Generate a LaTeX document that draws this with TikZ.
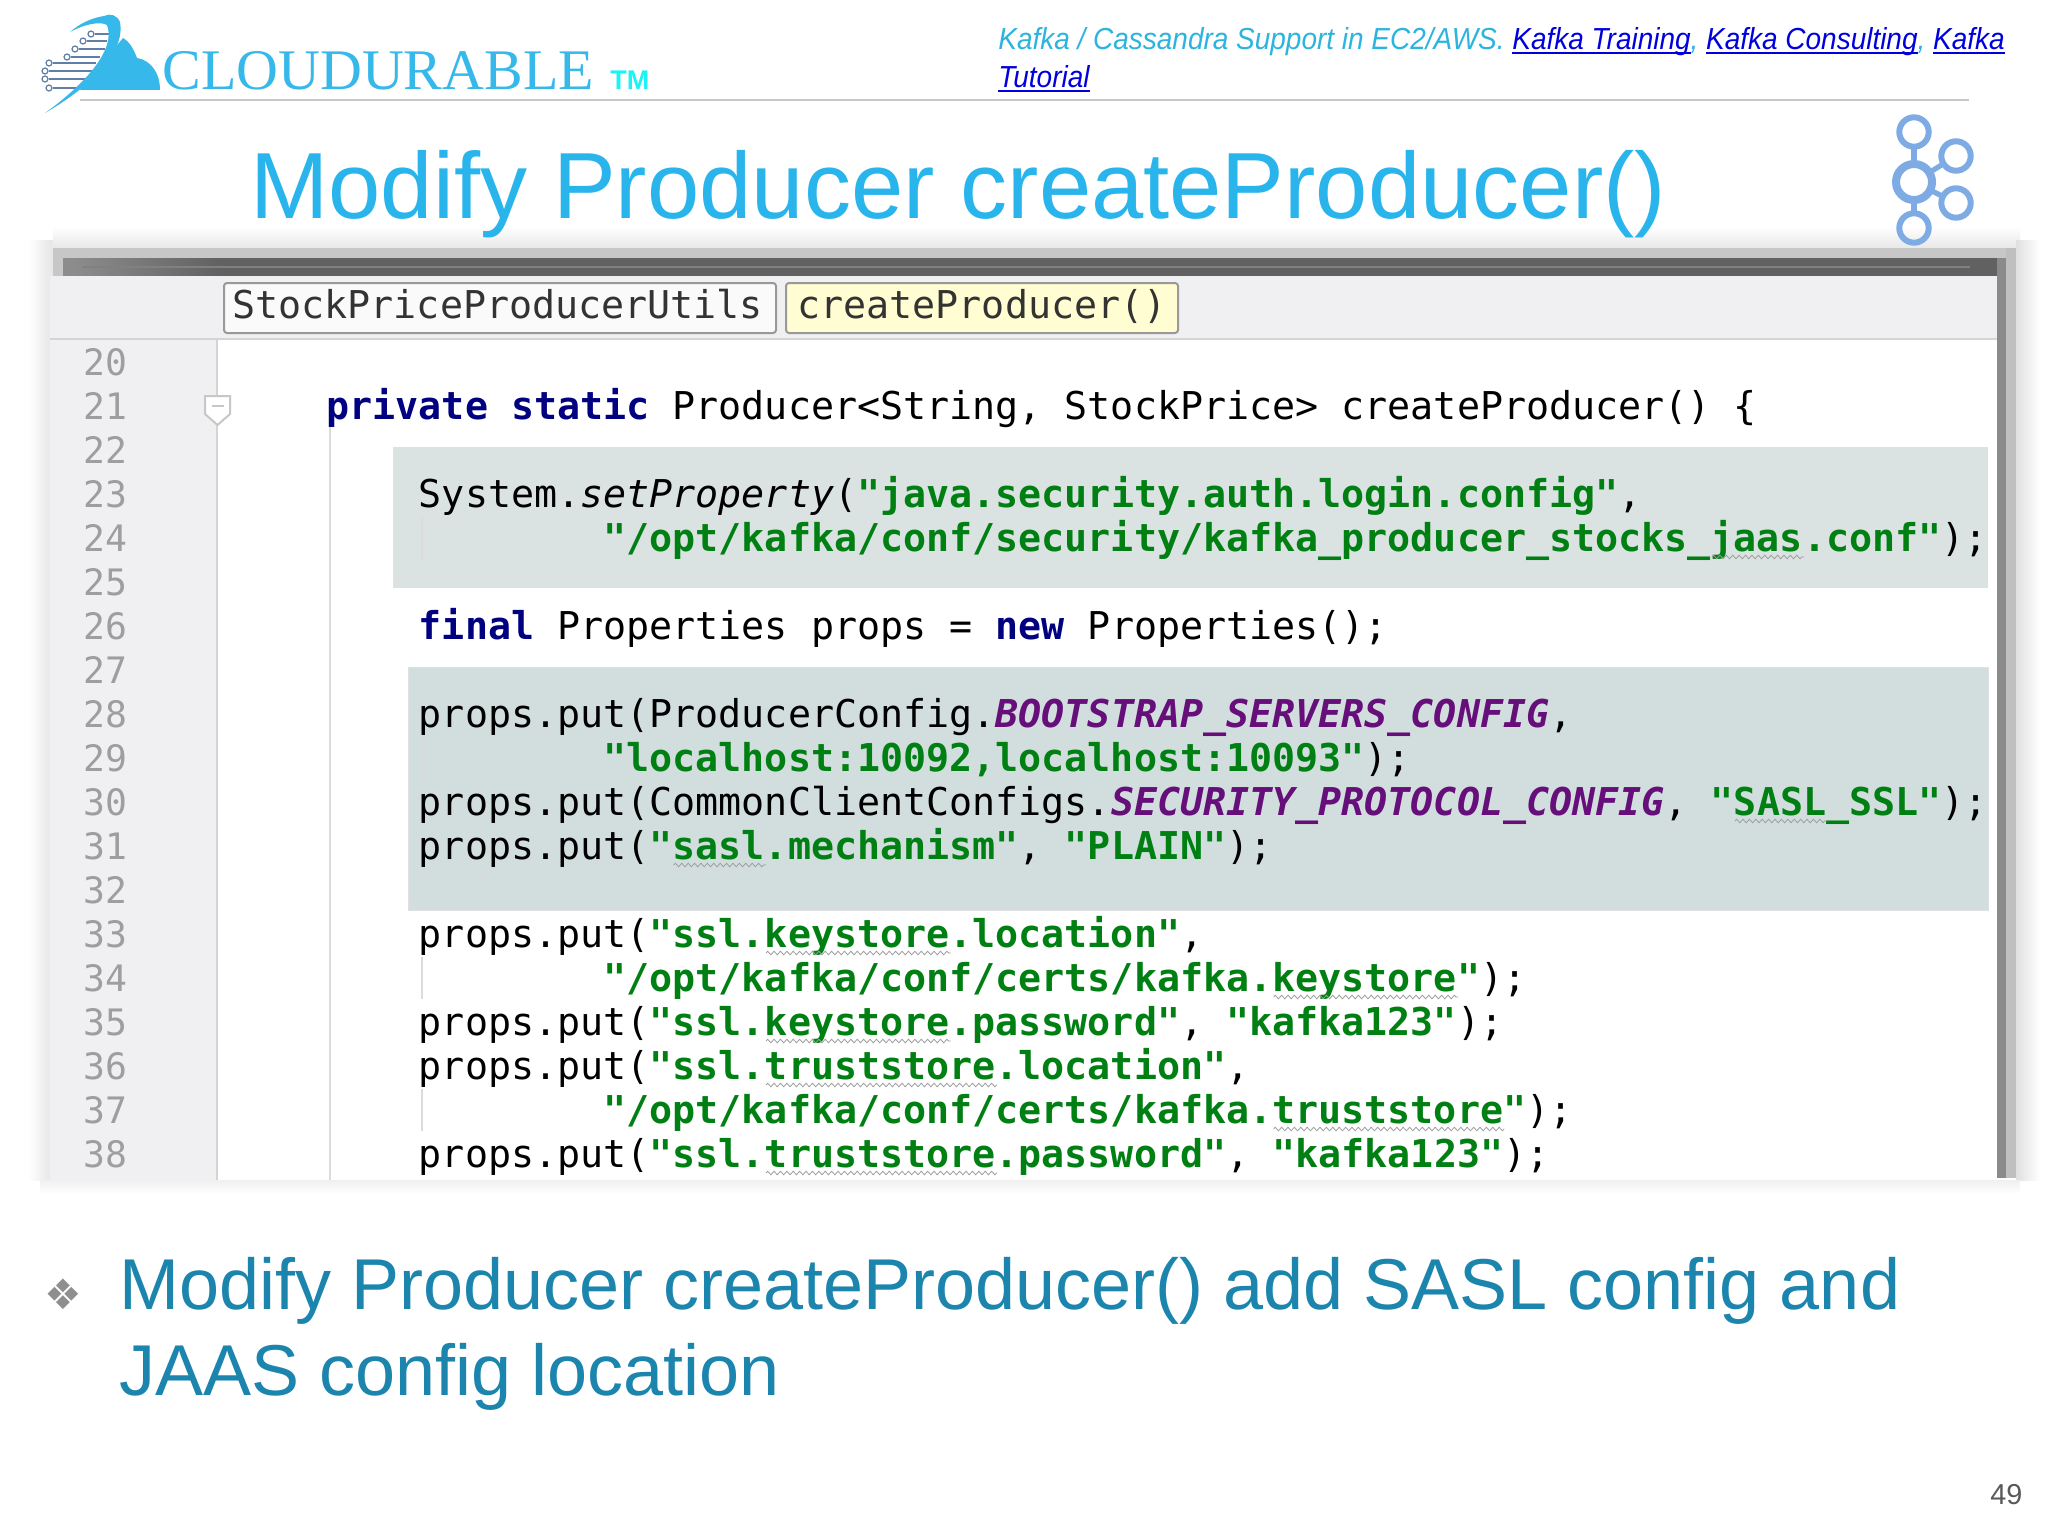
\documentclass[tikz,border=0pt]{standalone}
\usepackage{fontspec}
\setmainfont{Liberation Sans}
\setmonofont{DejaVu Sans Mono}
\newfontfamily\serifface{Liberation Serif}
\newfontfamily\dingface{DejaVu Sans}
\usetikzlibrary{decorations.pathmorphing}
\definecolor{titleblue}{HTML}{29B5EC}
\definecolor{bodyblue}{HTML}{1C85AE}
\definecolor{logoblue}{HTML}{36B9EA}
\definecolor{logoteal}{HTML}{1CF3F5}
\definecolor{circuit}{HTML}{5F7FA8}
\definecolor{headteal}{HTML}{2DB4DE}
\definecolor{linkblue}{HTML}{0000DD}
\definecolor{kafkablue}{HTML}{7FABE5}
\definecolor{kwnavy}{HTML}{000080}
\definecolor{strgreen}{HTML}{007F12}
\definecolor{cstpurple}{HTML}{660E7A}
\definecolor{gutter}{HTML}{F0F0F2}
\definecolor{hlone}{HTML}{DAE2E2}
\definecolor{hltwo}{HTML}{D2DEDD}
\newcommand{\kw}[1]{\textcolor{kwnavy}{\bfseries #1}}
\newcommand{\strg}[1]{\textcolor{strgreen}{\bfseries #1}}
\newcommand{\cst}[1]{\textcolor{cstpurple}{\bfseries\itshape #1}}
\newsavebox{\lnkbox}
\newcommand{\lnk}[1]{\textcolor{linkblue}{\sbox{\lnkbox}{#1}\rlap{\rule[-2pt]{\wd\lnkbox}{1pt}}\usebox{\lnkbox}}}
\tikzset{
  codetext/.style={anchor=base west,inner sep=0pt,font=\ttfamily\fontsize{19.16}{22}\selectfont,text=black},
  numtext/.style={anchor=base west,inner sep=0pt,font=\ttfamily\fontsize{18.2}{22}\selectfont,text=black!38},
  crumb/.style={anchor=base west,inner sep=0pt,font=\ttfamily\fontsize{19.16}{22}\selectfont,text=black!80},
  crumbbox/.style={draw=black!40,line width=1pt,rounded corners=1.5pt},
  headtext/.style={anchor=base west,inner sep=0pt,font=\itshape\fontsize{15.2}{18}\selectfont,text=headteal,xscale=.92,transform shape},
  bodytext/.style={anchor=base west,inner sep=0pt,font=\fontsize{36}{43}\selectfont,text=bodyblue},
  bigring/.style={circle,draw=kafkablue,line width=4pt,minimum size=18pt,inner sep=0pt,outer sep=0pt},
  smallring/.style={circle,draw=kafkablue,line width=3pt,minimum size=14.7pt,inner sep=0pt,outer sep=0pt},
  ringlink/.style={draw=kafkablue,line width=2.6pt},
  wavy/.style={draw=black!38,line width=.4pt,decorate,decoration={zigzag,amplitude=.9pt,segment length=3.2pt}},
  guide/.style={draw=black!14,line width=1pt},
  pin/.style={circle,draw=circuit,line width=.6pt,minimum size=3pt,inner sep=0pt,fill=white},
  wire/.style={draw=circuit,line width=1pt}
}
\newcommand{\cl}[3]{\node[codetext] (L#1) at ({418.5+23.07*(#2)},{375+44*(#1-20)}) {#3};}
\newcommand{\wv}[3]{\draw[wavy] ({420+23.07*(#2)},{381+44*(#1-20)}) -- ({420+23.07*(#3)},{381+44*(#1-20)});}
\newcommand{\ig}[1]{\draw[guide] (422,{341+44*(#1-20)}) -- (422,{383+44*(#1-20)});}
\newcommand{\ign}[1]{\node[numtext] (N#1) at (83,{375.5+44*(#1-20)}) {#1};}
\newcommand{\pinwire}[4]{\node[pin] (#1) at (#2,#3) {}; \coordinate (#1e) at (#4,#3); \draw[wire] (#1) -- (#1e);}
\begin{document}
\begin{tikzpicture}[x=0.5pt,y=-0.5pt]
\useasboundingbox (0,0) rectangle (2048,1536);
\fill[white] (0,0) rectangle (2048,1536);
\frenchspacing
% panel shadow
\shade[top color=white,bottom color=black!9] (53,226) rectangle (2020,248);
\shade[left color=white,right color=black!9] (28,240) rectangle (50,1180);
\fill[black!9] (50,240) rectangle (53,276);
\shade[left color=black!12,right color=white] (2016,240) rectangle (2040,1180);
\shade[top color=black!6,bottom color=white] (40,1180) rectangle (2020,1194);
\fill[black!22] (53,248) rectangle (2016,258);
\fill[black!25] (2006,248) rectangle (2016,1178);
\fill[black!46] (1997,258) rectangle (2006,1178);
\fill[black!22] (53,258) rectangle (63,276);
\fill[black!45] (63,258) rectangle (73,276);
\shade[left color=black!45,right color=black!62] (73,258) rectangle (220,276);
\fill[black!62] (220,258) rectangle (1997,276);
\fill[black!50] (82,266) rectangle (1970,268);
% logo
\pinwire{p1}{91}{34}{109}
\pinwire{p2}{83}{41}{107}
\pinwire{p3}{75}{49}{105}
\pinwire{p4}{67}{57}{100}
\pinwire{p5}{49}{63}{96}
\pinwire{p6}{45}{71}{94}
\pinwire{p7}{45}{79}{87}
\pinwire{p8}{49}{88}{83}
\fill[logoblue] (80,90) -- (123,38) .. controls (130,42) and (134,50) .. (137,58)
  .. controls (150,60) and (160,72) .. (160,90) -- cycle;
\fill[logoblue] (45,113) .. controls (85,90) and (126,55) .. (120,22)
  .. controls (117,15) and (110,13) .. (104,16)
  .. controls (90,18) and (78,25) .. (70,32)
  .. controls (85,24) and (100,21) .. (107,25)
  .. controls (116,48) and (88,82) .. (45,113) -- cycle;
\node[anchor=base west,inner sep=0pt,text=logoblue,font=\serifface\fontsize{28.7}{30}\selectfont,xscale=1.01,transform shape] (brand) at (162,90) {CLOUDURABLE};
\node[anchor=base west,inner sep=0pt,text=logoteal,font=\bfseries\fontsize{13.5}{14}\selectfont] (tm) at (610,90) {TM};
\draw[black!22,line width=1pt] (80,100) -- (1969,100);
% header
\node[headtext] (h1) at (998,50) {Kafka / Cassandra Support in EC2/AWS. \lnk{Kafka Training}, \lnk{Kafka Consulting}, \lnk{Kafka}};
\node[headtext] (h2) at (998,88) {\lnk{Tutorial}};
% title
\node[anchor=base west,inner sep=0pt,text=titleblue,font=\fontsize{47}{54}\selectfont] (title) at (250,218) {Modify Producer createProducer()};
% kafka logo
\node[bigring] (kc) at (1914,182) {};
\node[smallring] (k1) at (1914,132) {};
\node[smallring] (k2) at (1956,156) {};
\node[smallring] (k3) at (1956,203) {};
\node[smallring] (k4) at (1914,228) {};
\draw[ringlink] (kc) -- (k1);
\draw[ringlink] (kc) -- (k2);
\draw[ringlink] (kc) -- (k3);
\draw[ringlink] (kc) -- (k4);
% panel
\fill[white] (50,276) rectangle (1997,1180);
\fill[gutter] (50,276) rectangle (217,1180);
\fill[gutter] (50,276) rectangle (1997,339);
\draw[black!17,line width=1pt] (50,339) -- (1997,339);
\draw[black!17,line width=1pt] (217,339) -- (217,1180);
% breadcrumbs
\node[crumbbox,fill=black!2,minimum width=276pt,minimum height=25pt,inner sep=0pt,anchor=north west] (b1) at (223,282) {};
\node[crumbbox,fill=yellow!18,minimum width=196pt,minimum height=25pt,inner sep=0pt,anchor=north west] (b2) at (785,282) {};
\node[crumb] (c1) at (232,318) {StockPriceProducerUtils};
\node[crumb] (c2) at (797,318) {createProducer()};
% guides and highlights
\draw[guide] (330,427) -- (330,1180);
\fill[hlone,draw=black!12,line width=.5pt] (393,447) rectangle (1987,587);
\fill[hltwo,draw=black!12,line width=.5pt] (408,667) rectangle (1988,910);
\ig{24}\ig{29}\ig{34}\ig{37}
% fold marker
\draw[black!22,fill=white,line width=1pt] (205,396) -- (230,396) -- (230,414) -- (217.5,425) -- (205,414) -- cycle;
\draw[black!22,line width=1pt] (212,406) -- (224,406);
% line numbers
\foreach \n in {20,...,38}{\ign{\n}}
% code
\cl{21}{-4}{\kw{private static} Producer<String, StockPrice> createProducer() \{}
\cl{23}{0}{System.\textit{setProperty}(\strg{"java.security.auth.login.config"},}
\cl{24}{8}{\strg{"/opt/kafka/conf/security/kafka\_producer\_stocks\_jaas.conf"});}
\cl{26}{0}{\kw{final} Properties props = \kw{new} Properties();}
\cl{28}{0}{props.put(ProducerConfig.\cst{BOOTSTRAP\_SERVERS\_CONFIG},}
\cl{29}{8}{\strg{"localhost:10092,localhost:10093"});}
\cl{30}{0}{props.put(CommonClientConfigs.\cst{SECURITY\_PROTOCOL\_CONFIG}, \strg{"SASL\_SSL"});}
\cl{31}{0}{props.put(\strg{"sasl.mechanism"}, \strg{"PLAIN"});}
\cl{33}{0}{props.put(\strg{"ssl.keystore.location"},}
\cl{34}{8}{\strg{"/opt/kafka/conf/certs/kafka.keystore"});}
\cl{35}{0}{props.put(\strg{"ssl.keystore.password"}, \strg{"kafka123"});}
\cl{36}{0}{props.put(\strg{"ssl.truststore.location"},}
\cl{37}{8}{\strg{"/opt/kafka/conf/certs/kafka.truststore"});}
\cl{38}{0}{props.put(\strg{"ssl.truststore.password"}, \strg{"kafka123"});}
\wv{24}{56}{60}\wv{30}{57}{61}\wv{31}{11}{15}\wv{33}{15}{23}\wv{34}{37}{45}\wv{35}{15}{23}\wv{36}{15}{25}\wv{37}{37}{47}\wv{38}{15}{25}
% bullet
\node[inner sep=0pt,text=black!44,font=\dingface\fontsize{21}{22}\selectfont] (bul) at (63,1294) {❖};
\node[bodytext] (b1t) at (119,1309) {Modify Producer createProducer() add SASL config and};
\node[bodytext] (b2t) at (119,1395) {JAAS config location};
\node[anchor=base west,inner sep=0pt,text=black!65,font=\fontsize{14.4}{16}\selectfont] (pg) at (1990,1504) {49};
\end{tikzpicture}
\end{document}
